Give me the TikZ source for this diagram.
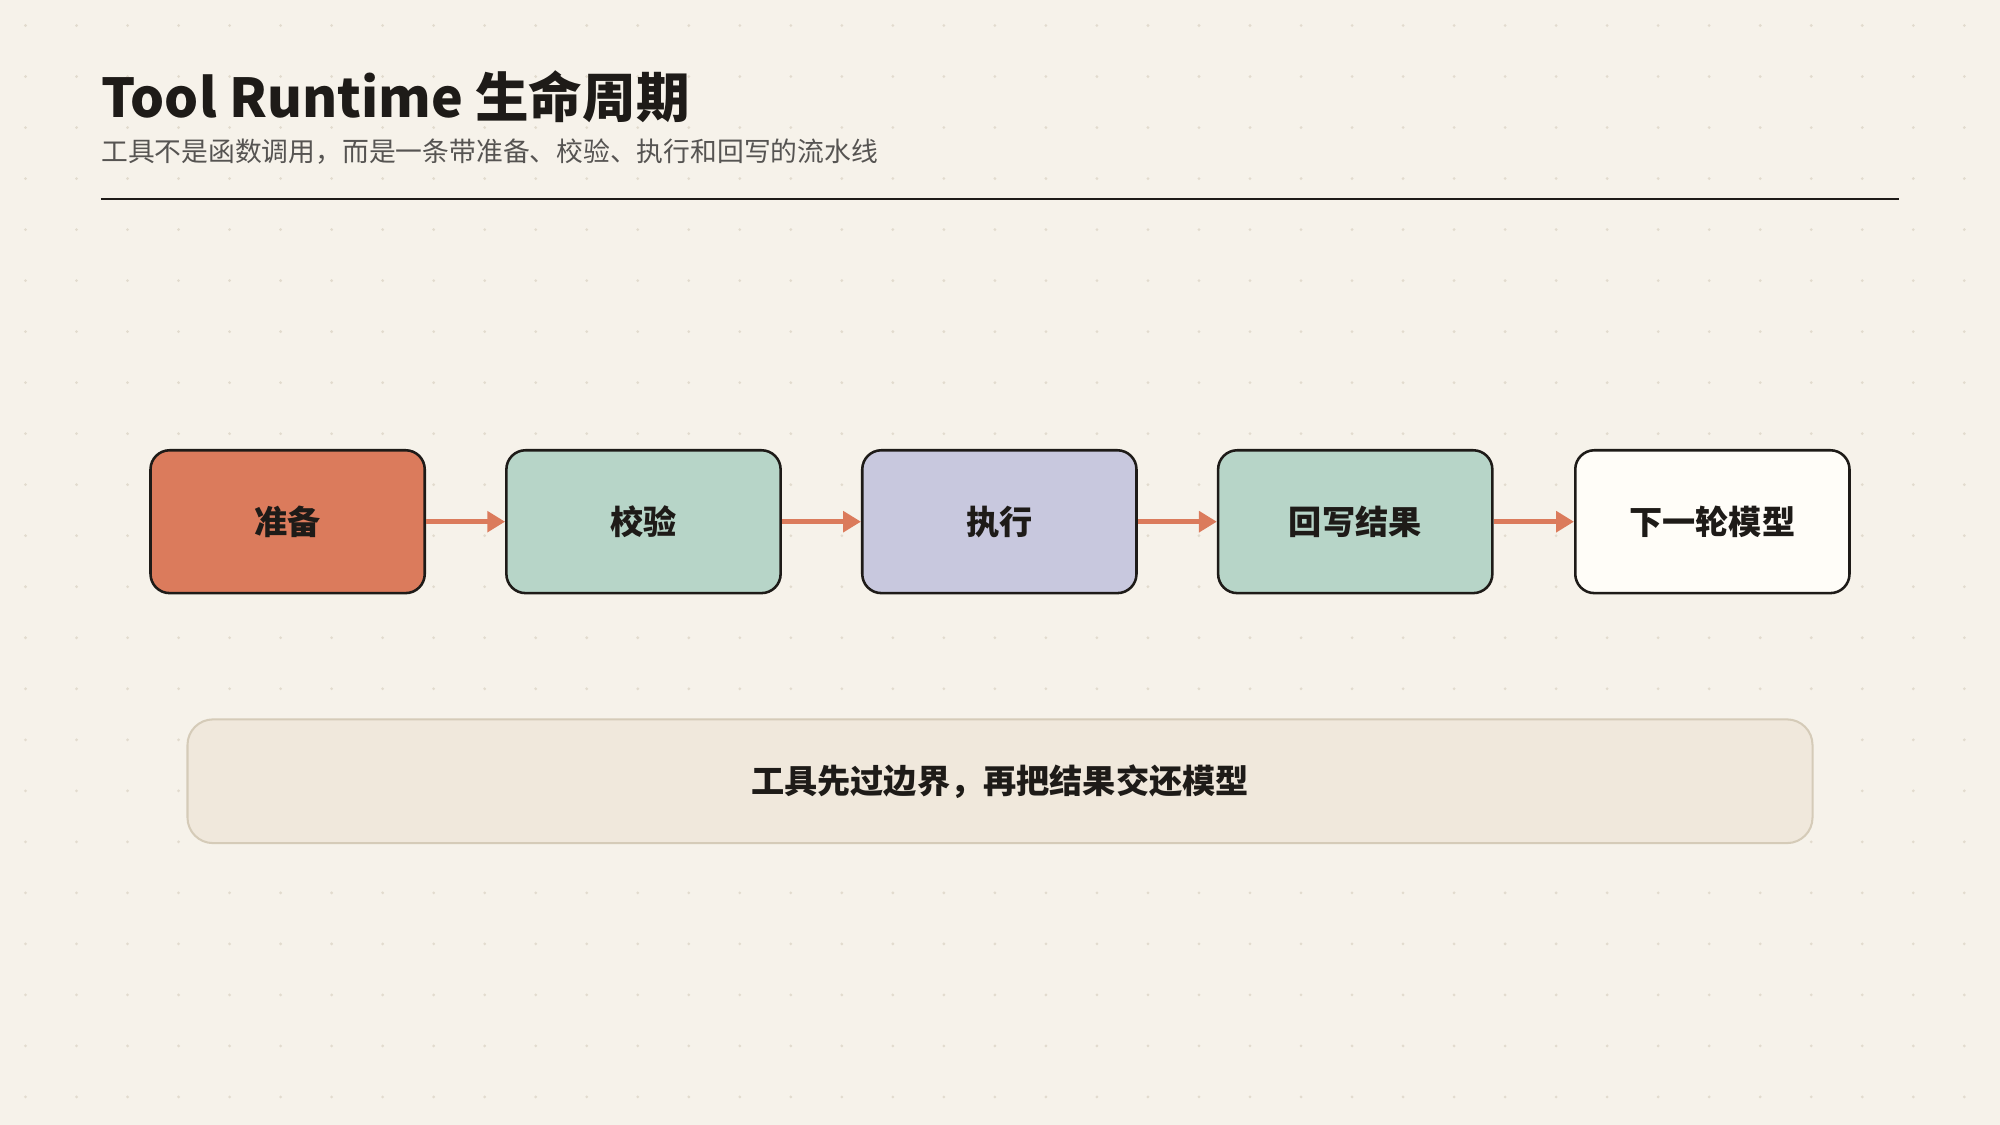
\documentclass[tikz,border=0pt]{standalone}
\usepackage{fontspec}
\setmainfont{Noto Sans CJK SC}
\usetikzlibrary{arrows.meta}
\definecolor{bg}{HTML}{F6F2EA}
\definecolor{ink}{HTML}{1E1B18}
\definecolor{accent}{HTML}{DB7B5C}
\definecolor{sage}{HTML}{B7D5C8}
\definecolor{lav}{HTML}{C8C8DE}
\definecolor{cream}{HTML}{FFFDF8}
\definecolor{note}{HTML}{F0E8DC}
\definecolor{noteb}{HTML}{D5CBB8}
\definecolor{dot}{HTML}{E2DBCE}
\begin{document}
\begin{tikzpicture}[x=0.5pt,y=-0.5pt,
  stage/.style={draw=ink,line width=1pt,rounded corners=7.5pt,minimum width=107.5pt,minimum height=56pt,font=\fontsize{13}{15}\selectfont\bfseries,text=ink},
  flow/.style={draw=accent,line width=2pt,-{Triangle[length=7pt,width=8pt]}}]
\useasboundingbox[fill=bg] (0,0) rectangle (1568,882);
\foreach \i in {0,...,39} \foreach \j in {0,...,22} \fill[dot] (\i*40+20,\j*40+20) circle (0.6pt);
\node[anchor=base west,font=\fontsize{21}{24}\selectfont\bfseries,text=ink,inner sep=0] (title) at (79,92) {Tool Runtime 生命周期};
\node[anchor=base west,font=\fontsize{10.5}{12}\selectfont,text=ink!75,inner sep=0] (sub) at (79,127) {工具不是函数调用，而是一条带准备、校验、执行和回写的流水线};
\coordinate (r1) at (79,156); \coordinate (r2) at (1489,156);
\draw[ink,line width=1pt] (r1) -- (r2);
\node[stage,fill=accent] (a) at (225.5,409) {准备};
\node[stage,fill=sage] (b) at (504.5,409) {校验};
\node[stage,fill=lav] (c) at (783.5,409) {执行};
\node[stage,fill=sage] (d) at (1062.5,409) {回写结果};
\node[stage,fill=cream] (e) at (1342.5,409) {下一轮模型};
\draw[flow] (a) -- (b); \draw[flow] (b) -- (c); \draw[flow] (c) -- (d); \draw[flow] (d) -- (e);
\node[draw=noteb,fill=note,line width=0.8pt,rounded corners=10pt,minimum width=637pt,minimum height=48.5pt,font=\fontsize{13}{15}\selectfont\bfseries,text=ink] (n) at (784,612.5) {工具先过边界，再把结果交还模型};
\end{tikzpicture}
\end{document}
